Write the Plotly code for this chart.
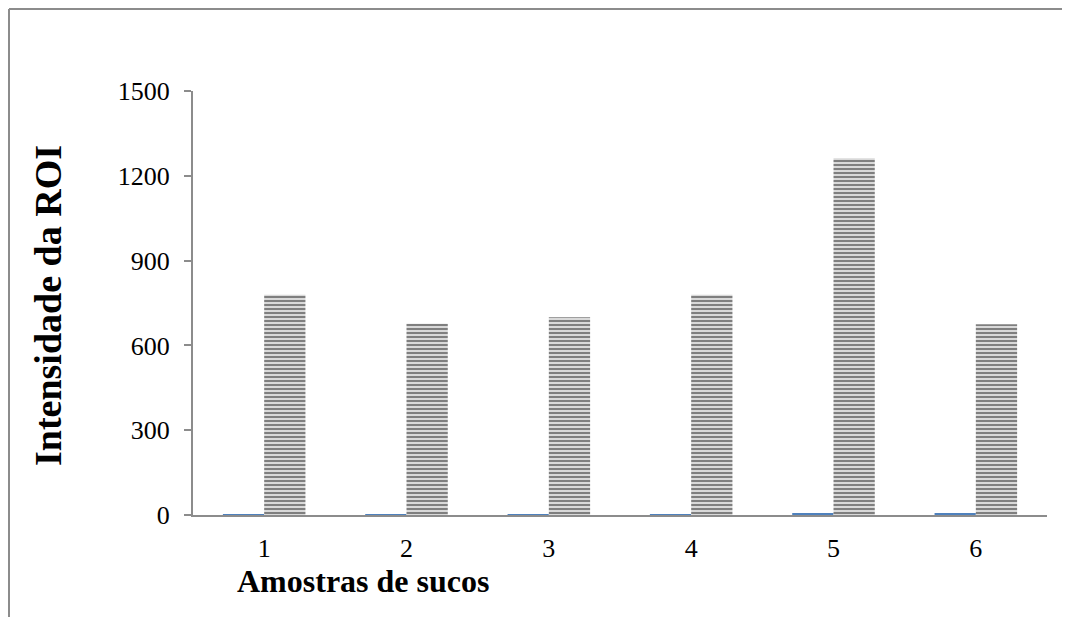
import plotly.graph_objects as go

categories = [1, 2, 3, 4, 5, 6]
tick_labels = ["1", "2", "3", "4", "5", "6"]
series_a = [1.5, 1.2, 3.0, 3.5, 4.0, 4.5]
series_b = [779, 677, 700, 779, 1262, 675]
y_ticks = [0, 300, 600, 900, 1200, 1500]

OFF = 8  # page body margin
W, H = 1070 - OFF, 617 - OFF
L, T = 193 - OFF, 91 - OFF
pw, ph = 854, 424
R, B = W - L - pw, H - T - ph

def px(x):
    return (x - OFF - L) / pw

def py(y):
    return 1 - (y - OFF - T) / ph

fig = go.Figure()
fig.add_trace(go.Bar(x=categories, y=series_a, marker=dict(color="#4F81BD", line=dict(width=0)),
                     showlegend=False))
fig.add_trace(go.Bar(x=categories, y=series_b,
                     marker=dict(color="white", line=dict(width=0),
                                 pattern=dict(shape="-", fgcolor="black", bgcolor="white",
                                              size=4, solidity=0.65, fillmode="overlay")),
                     showlegend=False))

font_family = "Liberation Serif, Times New Roman, serif"
fig.update_layout(
    width=W, height=H,
    margin=dict(l=L, r=R, t=T, b=B),
    paper_bgcolor="white", plot_bgcolor="white",
    barmode="group", bargap=0.42, bargroupgap=0,
    font=dict(family=font_family, color="black", size=26),
)
fig.update_xaxes(range=[0.5, 6.5], tickmode="array", tickvals=categories, ticktext=tick_labels,
                 showline=True, linecolor="#8C8C8C", linewidth=2, ticks="", showgrid=False,
                 zeroline=False, tickfont=dict(size=26, family=font_family), ticklabelstandoff=9)
fig.update_yaxes(range=[0, 1500], tickmode="array", tickvals=y_ticks,
                 showline=True, linecolor="#8C8C8C", linewidth=2, ticks="outside",
                 ticklen=7, tickcolor="#8C8C8C", tickwidth=2, showgrid=False, zeroline=False,
                 tickfont=dict(size=26, family=font_family), ticklabelstandoff=9)

# outer frame (left and top)
fig.add_shape(type="line", xref="paper", yref="paper", x0=px(9), x1=px(9), y0=py(640), y1=py(9),
              line=dict(color="#8C8C8C", width=2))
fig.add_shape(type="line", xref="paper", yref="paper", x0=px(9), x1=px(1075), y0=py(9), y1=py(9),
              line=dict(color="#8C8C8C", width=2))

fig.add_annotation(text="<b>Intensidade da ROI</b>", xref="paper", yref="paper",
                   x=px(48), y=py(306), textangle=-90, showarrow=False,
                   font=dict(size=38, family=font_family), xanchor="center", yanchor="middle")
fig.add_annotation(text="<b>Amostras de sucos</b>", xref="paper", yref="paper",
                   x=px(363), y=py(581), showarrow=False,
                   font=dict(size=32, family=font_family), xanchor="center", yanchor="middle")

fig.write_html("out.html")
